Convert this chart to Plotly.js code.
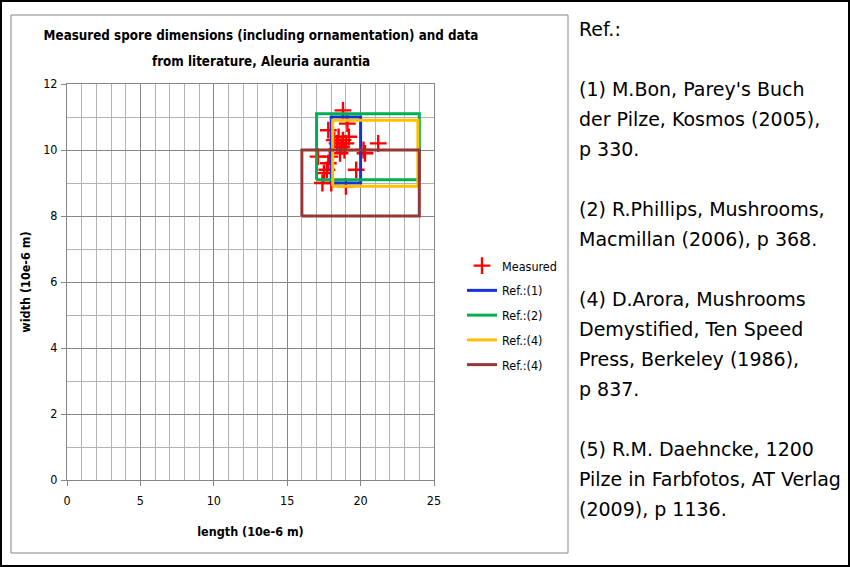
<!DOCTYPE html>
<html>
<head>
<meta charset="utf-8">
<script src="https://cdn.plot.ly/plotly-3.0.1.min.js"></script>
<style>
html,body{margin:0;padding:0;background:#fff;}
#chart{width:850px;height:567px;}
</style>
</head>
<body>
<div id="chart"></div>
<script>
// ---- data ----
const measuredLength = [18.8, 19.1, 17.8, 18.5, 18.8, 19.2, 18.4, 18.7, 19.0, 18.9, 18.6, 18.2, 20.2, 20.3, 21.2, 17.1, 17.9, 17.8, 17.7, 17.5, 19.7, 17.4, 19.0, 18.0];
const measuredWidth  = [11.2, 10.8, 10.6, 10.4, 10.3, 10.4, 10.2, 10.1, 10.2, 10.0, 9.9, 10.3, 10.0, 9.9, 10.2, 9.8, 9.8, 9.6, 9.4, 9.3, 9.4, 9.0, 8.9, 9.0];

const refNames   = ["Ref.:(1)", "Ref.:(2)", "Ref.:(4)", "Ref.:(4)"];
const refLenMin  = [18, 17, 18.1, 16];
const refLenMax  = [20, 24, 23.9, 24];
const refWidMin  = [9, 9.1, 8.9, 8];
const refWidMax  = [11, 11.1, 10.9, 10];
const refColors  = ["#1533d6", "#00b050", "#ffc000", "#953735"];

const titleLines = ["Measured spore dimensions (including ornamentation) and data", "from literature, Aleuria aurantia"];
const xTitle = "length (10e-6 m)";
const yTitle = "width (10e-6 m)";

const refText = [
  "Ref.:", "",
  "(1) M.Bon, Parey's Buch", "der Pilze, Kosmos (2005),", "p 330.", "",
  "(2) R.Phillips, Mushrooms,", "Macmillan (2006), p 368.", "",
  "(4) D.Arora, Mushrooms", "Demystified, Ten Speed", "Press, Berkeley (1986),", "p 837.", "",
  "(5) R.M. Daehncke, 1200", "Pilze in Farbfotos, AT Verlag", "(2009), p 1136."
];

// ---- layout helpers (pixel -> paper) ----
const W = 850, H = 567;
const L = 67, R = 434, T = 84, B = 480;
const px = v => (v - L) / (R - L);
const py = v => (B - v) / (B - T);

const chartFont = "DejaVu Sans Condensed, DejaVu Sans, sans-serif";

const traces = [];
traces.push({
  type: "scatter", mode: "markers", name: "Measured",
  x: measuredLength, y: measuredWidth,
  marker: {symbol: "cross-thin-open", size: 12, color: "#ff0000", line: {color: "#ff0000", width: 2.4}},
  legendgroup: "m"
});
for (let i = 0; i < refNames.length; i++) {
  traces.push({
    type: "scatter", mode: "lines", name: refNames[i],
    x: [refLenMin[i], refLenMax[i], refLenMax[i], refLenMin[i], refLenMin[i]],
    y: [refWidMin[i], refWidMin[i], refWidMax[i], refWidMax[i], refWidMin[i]],
    line: {color: refColors[i], width: 3},
    legendgroup: "r" + i
  });
}

const annotations = [];
annotations.push({
  xref: "paper", yref: "paper", x: px(261), y: py(62), xanchor: "center", yanchor: "middle",
  text: "<b>" + titleLines[1] + "</b>", showarrow: false,
  font: {family: chartFont, size: 13.3, color: "#000"}
});
refText.forEach((t, i) => {
  if (!t) return;
  annotations.push({
    xref: "paper", yref: "paper", x: px(577), y: py(29 + 30 * i), xanchor: "left", yanchor: "middle",
    text: t, showarrow: false,
    font: {family: "DejaVu Sans, Verdana, sans-serif", size: 19, color: "#000"}
  });
});

const shapes = [
  {type: "rect", xref: "paper", yref: "paper", x0: px(11), x1: px(568), y0: py(15), y1: py(553),
   line: {color: "#868686", width: 1}, layer: "below"},
  {type: "rect", xref: "paper", yref: "paper", x0: px(1), x1: px(849), y0: py(1), y1: py(566),
   line: {color: "#000", width: 2}, layer: "below"}
];

const layout = {
  width: W, height: H,
  margin: {l: L, r: W - R, t: T, b: H - B, pad: 0},
  paper_bgcolor: "#fff", plot_bgcolor: "#fff",
  showlegend: true,
  title: {
    text: "<b>" + titleLines[0] + "</b>",
    font: {family: chartFont, size: 13.3, color: "#000"},
    x: px(261), xref: "paper", xanchor: "center",
    y: 1 - 35 / H, yref: "container", yanchor: "middle"
  },
  xaxis: {
    range: [0, 25], dtick: 5, tick0: 0,
    showgrid: true, gridcolor: "#868686", gridwidth: 1,
    minor: {dtick: 1, showgrid: true, gridcolor: "#b3b3b3", gridwidth: 1},
    showline: true, linecolor: "#868686", linewidth: 1, mirror: true,
    ticks: "outside", ticklen: 5, tickcolor: "#868686",
    ticklabelstandoff: 4,
    zeroline: false,
    tickfont: {family: chartFont, size: 12.5, color: "#000"},
    title: {text: "<b>" + xTitle + "</b>", font: {family: chartFont, size: 12.5, color: "#000"}, standoff: 20}
  },
  yaxis: {
    range: [0, 12], dtick: 2, tick0: 0,
    showgrid: true, gridcolor: "#868686", gridwidth: 1,
    minor: {dtick: 1, showgrid: true, gridcolor: "#b3b3b3", gridwidth: 1},
    showline: true, linecolor: "#868686", linewidth: 1, mirror: true,
    ticks: "outside", ticklen: 5, tickcolor: "#868686",
    ticklabelstandoff: 1,
    zeroline: false,
    tickfont: {family: chartFont, size: 12.5, color: "#000"},
    title: {text: "<b>" + yTitle + "</b>", font: {family: chartFont, size: 12.5, color: "#000"}, standoff: 9}
  },
  legend: {
    x: px(462), y: py(251), xanchor: "left", yanchor: "top",
    bgcolor: "rgba(0,0,0,0)", borderwidth: 0,
    font: {family: chartFont, size: 12.5, color: "#000"},
    traceorder: "grouped", tracegroupgap: 5.5
  },
  annotations: annotations,
  shapes: shapes
};

Plotly.newPlot("chart", traces, layout, {displayModeBar: false, staticPlot: true});
</script>
</body>
</html>
